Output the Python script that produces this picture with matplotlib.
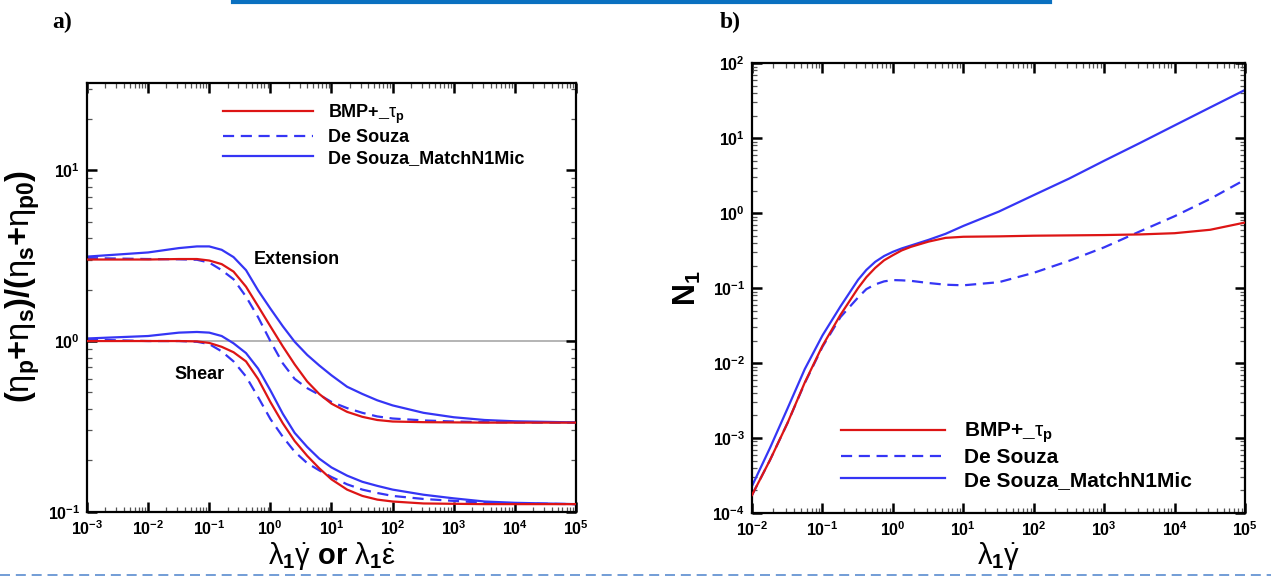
import matplotlib
matplotlib.use("Agg")
import matplotlib.pyplot as plt
from matplotlib.lines import Line2D
from matplotlib.ticker import FixedLocator, FixedFormatter, LogLocator, NullFormatter

plt.rcParams['font.family'] = ['Liberation Sans', 'DejaVu Sans']
plt.rcParams['mathtext.fontset'] = 'custom'
plt.rcParams['mathtext.rm'] = 'Liberation Sans'
plt.rcParams['mathtext.it'] = 'Liberation Sans'
plt.rcParams['mathtext.bf'] = 'Liberation Sans:bold'

# ---------------- panel a): viscosity ratios ----------------
rate_a = [0.001, 0.01, 0.032, 0.063, 0.1, 0.16, 0.25, 0.4, 0.63, 1.0, 1.6, 2.5,
          4.0, 6.3, 10, 18, 32, 56, 100, 320, 1000, 3200, 1e4, 1e5]

ext_bmp = [3.0, 3.0, 3.02, 3.02, 2.96, 2.82, 2.55, 2.08, 1.6, 1.22, 0.93, 0.73,
           0.58, 0.49, 0.43, 0.385, 0.36, 0.345, 0.338, 0.335, 0.334, 0.333, 0.333, 0.333]
ext_desouza = [3.06, 3.02, 3.01, 2.99, 2.88, 2.6, 2.3, 1.82, 1.38, 1.0, 0.74, 0.6,
               0.53, 0.485, 0.44, 0.405, 0.38, 0.362, 0.352, 0.343, 0.338, 0.335, 0.334, 0.333]
ext_match = [3.12, 3.3, 3.5, 3.58, 3.58, 3.42, 3.1, 2.6, 1.98, 1.55, 1.22, 0.99,
             0.83, 0.72, 0.63, 0.54, 0.49, 0.45, 0.42, 0.38, 0.358, 0.345, 0.339, 0.334]

shear_bmp = [1.0, 1.0, 1.0, 0.995, 0.975, 0.925, 0.86, 0.76, 0.6, 0.44, 0.33, 0.26,
             0.213, 0.18, 0.155, 0.135, 0.124, 0.118, 0.115, 0.112, 0.1115, 0.111, 0.111, 0.111]
shear_desouza = [1.02, 1.0, 1.0, 0.99, 0.96, 0.87, 0.76, 0.62, 0.47, 0.35, 0.275, 0.225,
                 0.193, 0.175, 0.16, 0.145, 0.135, 0.129, 0.124, 0.119, 0.116, 0.113, 0.112, 0.111]
shear_match = [1.035, 1.07, 1.12, 1.13, 1.12, 1.07, 0.97, 0.85, 0.69, 0.515, 0.375, 0.29,
               0.24, 0.205, 0.182, 0.163, 0.15, 0.142, 0.135, 0.126, 0.12, 0.115, 0.113, 0.111]

xticks_a = [1e-3, 1e-2, 1e-1, 1e0, 1e1, 1e2, 1e3, 1e4, 1e5]
xlabels_a = [r'$\mathbf{10^{-3}}$', r'$\mathbf{10^{-2}}$', r'$\mathbf{10^{-1}}$', r'$\mathbf{10^{0}}$',
             r'$\mathbf{10^{1}}$', r'$\mathbf{10^{2}}$', r'$\mathbf{10^{3}}$', r'$\mathbf{10^{4}}$',
             r'$\mathbf{10^{5}}$']
yticks_a = [1e-1, 1e0, 1e1]
ylabels_a = [r'$\mathbf{10^{-1}}$', r'$\mathbf{10^{0}}$', r'$\mathbf{10^{1}}$']

# ---------------- panel b): first normal stress difference ----------------
rate_b = [0.01, 0.018, 0.032, 0.056, 0.1, 0.18, 0.32, 0.42, 0.56, 0.75, 1.0, 1.33, 1.8,
          3.2, 5.6, 10, 32, 100, 320, 1000, 3200, 1e4, 3.2e4, 1e5]

n1_bmp = [1.74e-4, 5.1e-4, 1.6e-3, 5.5e-3, 0.017, 0.044, 0.1, 0.14, 0.186, 0.235, 0.275,
          0.318, 0.355, 0.417, 0.468, 0.484, 0.49, 0.5, 0.505, 0.51, 0.52, 0.54, 0.6, 0.75]
n1_desouza = [1.74e-4, 5.1e-4, 1.6e-3, 5.4e-3, 0.0165, 0.041, 0.075, 0.097, 0.112, 0.123, 0.128,
              0.127, 0.125, 0.117, 0.111, 0.109, 0.12, 0.16, 0.232, 0.35, 0.57, 0.91, 1.55, 2.8]
n1_match = [2.3e-4, 7.4e-4, 2.5e-3, 8.3e-3, 0.0234, 0.057, 0.129, 0.175, 0.224, 0.268, 0.305,
            0.338, 0.37, 0.44, 0.53, 0.675, 1.05, 1.74, 2.9, 5.0, 8.6, 14.8, 25.7, 44]

xticks_b = [1e-2, 1e-1, 1e0, 1e1, 1e2, 1e3, 1e4, 1e5]
xlabels_b = xlabels_a[1:]
yticks_b = [1e-4, 1e-3, 1e-2, 1e-1, 1e0, 1e1, 1e2]
ylabels_b = [r'$\mathbf{10^{-4}}$', r'$\mathbf{10^{-3}}$', r'$\mathbf{10^{-2}}$', r'$\mathbf{10^{-1}}$',
             r'$\mathbf{10^{0}}$', r'$\mathbf{10^{1}}$', r'$\mathbf{10^{2}}$']

series_names = ['BMP+_$\\tau_{\\mathbf{p}}$', 'De Souza', 'De Souza_MatchN1Mic']

RED = '#DD1515'
BLUE = '#3535F5'
LW = 1.6
DASH = (5, 3)

fig = plt.figure(figsize=(12.71, 5.85), dpi=100)
ax_a = fig.add_axes([0.0684, 0.125, 0.3848, 0.733])
ax_b = fig.add_axes([0.5917, 0.123, 0.3879, 0.769])


def style_axes(ax, xticks, xlabels, yticks, ylabels):
    ax.set_xscale('log')
    ax.set_yscale('log')
    ax.xaxis.set_major_locator(FixedLocator(xticks))
    ax.xaxis.set_major_formatter(FixedFormatter(xlabels))
    ax.yaxis.set_major_locator(FixedLocator(yticks))
    ax.yaxis.set_major_formatter(FixedFormatter(ylabels))
    for axis in (ax.xaxis, ax.yaxis):
        axis.set_minor_locator(LogLocator(base=10, subs=range(2, 10), numticks=50))
        axis.set_minor_formatter(NullFormatter())
    ax.tick_params(which='major', direction='in', length=7, width=1.8,
                   top=True, right=True, labelsize=11.5, pad=5)
    ax.tick_params(which='minor', direction='in', length=3.5, width=0.9,
                   top=True, right=True, color='#555555')
    for sp in ax.spines.values():
        sp.set_linewidth(1.6)


# panel a
style_axes(ax_a, xticks_a, xlabels_a, yticks_a, ylabels_a)
ax_a.set_xlim(1e-3, 1e5)
ax_a.set_ylim(0.1, 10 ** 1.51)
ax_a.axhline(1.0, color='#A8A8A8', lw=1.2, zorder=1)
h1, = ax_a.plot(rate_a, ext_bmp, color=RED, lw=LW, zorder=3)
h2, = ax_a.plot(rate_a, ext_desouza, color=BLUE, lw=LW, dashes=DASH, zorder=2)
h3, = ax_a.plot(rate_a, ext_match, color=BLUE, lw=LW, zorder=2)
ax_a.plot(rate_a, shear_bmp, color=RED, lw=LW, zorder=3)
ax_a.plot(rate_a, shear_desouza, color=BLUE, lw=LW, dashes=DASH, zorder=2)
ax_a.plot(rate_a, shear_match, color=BLUE, lw=LW, zorder=2)
ax_a.text(0.429, 0.588, 'Extension', transform=ax_a.transAxes, ha='center', va='center',
          fontsize=13, fontweight='bold')
ax_a.text(0.230, 0.320, 'Shear', transform=ax_a.transAxes, ha='center', va='center',
          fontsize=13, fontweight='bold')
ax_a.legend([h1, h2, h3], series_names, loc='upper left', bbox_to_anchor=(0.278, 0.955),
            frameon=False, handlelength=5.0, handletextpad=0.8,
            labelspacing=0.2, borderpad=0, borderaxespad=0, prop={'weight': 'bold', 'size': 13})
ax_a.set_ylabel(r'$\mathbf{(}\eta_{\mathbf{p}}\mathbf{+}\eta_{\mathbf{s}}\mathbf{)/(}'
                r'\eta_{\mathbf{s}}\mathbf{+}\eta_{\mathbf{p0}}\mathbf{)}$', fontsize=23.5)
ax_a.yaxis.set_label_coords(-0.092, 0.525)
ax_a.set_xlabel(r'$\lambda_{\mathbf{1}}\dot{\gamma}\ \mathbf{or}\ \lambda_{\mathbf{1}}\dot{\varepsilon}$',
                fontsize=21)
ax_a.xaxis.set_label_coords(0.5, -0.066)

# panel b
style_axes(ax_b, xticks_b, xlabels_b, yticks_b, ylabels_b)
ax_b.set_xlim(1e-2, 1e5)
ax_b.set_ylim(1e-4, 1e2)
g1, = ax_b.plot(rate_b, n1_bmp, color=RED, lw=LW, zorder=3)
g2, = ax_b.plot(rate_b, n1_desouza, color=BLUE, lw=LW, dashes=DASH, zorder=2)
g3, = ax_b.plot(rate_b, n1_match, color=BLUE, lw=LW, zorder=2)
ax_b.legend([g1, g2, g3], series_names, loc='upper left', bbox_to_anchor=(0.18, 0.205),
            frameon=False, handlelength=5.0, handletextpad=0.9,
            labelspacing=0.15, borderpad=0, borderaxespad=0, prop={'weight': 'bold', 'size': 15})
ax_b.set_ylabel(r'$\mathbf{N_1}$', fontsize=22)
ax_b.yaxis.set_label_coords(-0.1, 0.5)
ax_b.set_xlabel(r'$\lambda_{\mathbf{1}}\dot{\gamma}$', fontsize=21)
ax_b.xaxis.set_label_coords(0.5, -0.06)

# panel letters
fig.text(0.041, 0.962, 'a)', fontsize=17, fontweight='bold', family='Liberation Serif',
         ha='left', va='center')
fig.text(0.566, 0.962, 'b)', fontsize=17, fontweight='bold', family='Liberation Serif',
         ha='left', va='center')

# page rules
fig.add_artist(Line2D([0.183, 0.826], [0.9965, 0.9965], transform=fig.transFigure,
                      color='#0A70C0', lw=3.0))
fig.add_artist(Line2D([0.0, 1.0], [0.017, 0.017], transform=fig.transFigure,
                      color='#5A8CD0', lw=1.2, dashes=(6, 3.5)))

fig.savefig('out.png', dpi=100)
